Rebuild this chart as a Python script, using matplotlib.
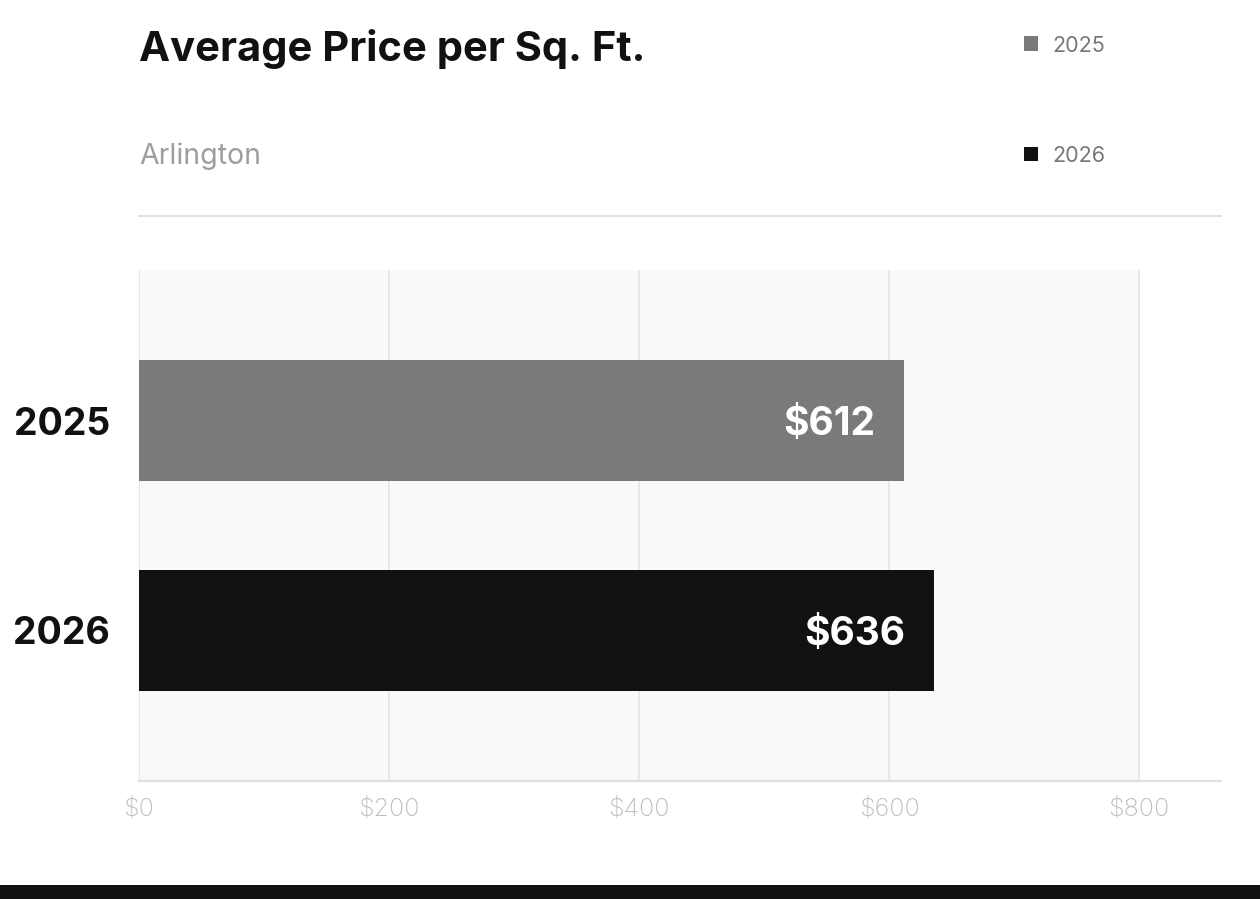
import matplotlib
matplotlib.use("Agg")
import matplotlib.pyplot as plt
from matplotlib.patches import Rectangle

# data
years = ["2025", "2026"]
prices = [612, 636]
bar_colors = ["#7a7a7a", "#111111"]
ticks = [0, 200, 400, 600, 800]
tick_labels = ["$0", "$200", "$400", "$600", "$800"]

plt.rcParams["font.family"] = ["Inter", "DejaVu Sans"]

W, H = 1260, 899
fig = plt.figure(figsize=(W / 100, H / 100), dpi=100)
fig.patch.set_facecolor("white")


def fx(px):
    return px / W


def fy(py):
    return 1 - py / H


# header
fig.text(fx(139), fy(61), "Average Price per Sq. Ft.", fontsize=30,
         fontweight="bold", color="#111111", va="baseline", ha="left")
fig.text(fx(139), fy(164), "Arlington", fontsize=20.5, fontweight="normal",
         color="#9e9e9e", va="baseline", ha="left")
fig.add_artist(plt.Line2D([fx(139), fx(1221)], [fy(215.5), fy(215.5)],
                          color="#e2e2e2", lw=1.5, transform=fig.transFigure))

# legend
legend_rows = [43.5, 153.5]
for yr, col, yc in zip(years, bar_colors, legend_rows):
    fig.add_artist(Rectangle((fx(1024), fy(yc + 7)), 14 / W, 14 / H,
                             facecolor=col, edgecolor="none",
                             transform=fig.transFigure))
    fig.text(fx(1052), fy(yc), yr, fontsize=15.5, color="#777777",
             va="center_baseline", ha="left")

# chart
ax = fig.add_axes([fx(139), fy(781), fx(1221) - fx(139), (781 - 270) / H])
ax.set_facecolor("white")
ypos = list(range(len(years)))
ax.axvspan(0, 800, facecolor="#f9f9f9", zorder=0)
for t in ticks:
    ax.axvline(t, color="#e6e6e6", lw=1.3, zorder=1)

ax.barh(ypos, prices, height=0.576, color=bar_colors, zorder=2)
for y, v in zip(ypos, prices):
    ax.annotate(f"${v}", xy=(v, y), xytext=(-21, 0), textcoords="offset points",
                ha="right", va="center_baseline", fontsize=28, fontweight="bold",
                color="white", zorder=3)

ax.set_xlim(0, (1221 - 139) / 1.25)
ax.set_ylim(1.7167, -0.7167)
ax.set_xticks(ticks)
ax.set_xticklabels(tick_labels, fontsize=18, color="#bdbdbd", fontweight="light")
ax.set_yticks(ypos)
ax.set_yticklabels(years, fontsize=27, fontweight="bold", color="#111111",
                   va="center_baseline")
ax.tick_params(axis="x", length=0, pad=12.5)
ax.tick_params(axis="y", length=0, pad=21)
for s in ["top", "right", "left"]:
    ax.spines[s].set_visible(False)
ax.spines["bottom"].set_color("#e0e0e0")
ax.spines["bottom"].set_linewidth(1.5)

# bottom band
fig.add_artist(Rectangle((0, 0), 1, 14 / H, facecolor="#111111",
                         edgecolor="none", transform=fig.transFigure))

fig.savefig("out.png", dpi=100)
